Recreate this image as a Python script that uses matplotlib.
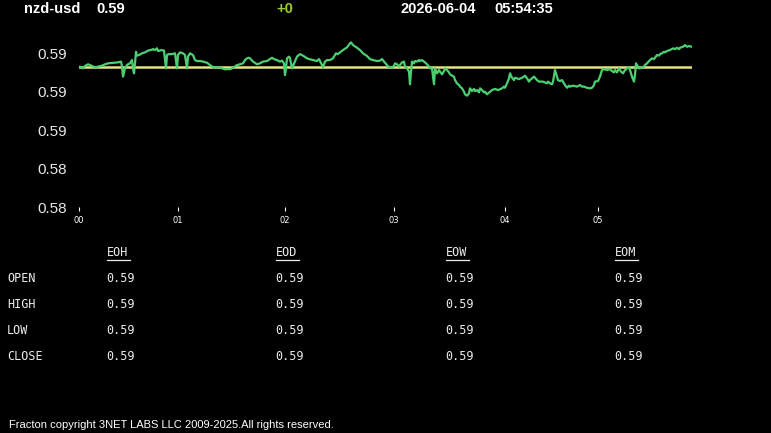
import numpy as np
import matplotlib
matplotlib.use("Agg")
import matplotlib.pyplot as plt
from matplotlib.lines import Line2D

# ---- header ----
pair_name = "nzd-usd"
last_price = "0.59"
change_txt = "+0"
date_txt = "2026-06-04"
time_txt = "05:54:35"

# ---- intraday series (sample index, price) ----
sample_idx = [0, 3, 4, 6, 9, 11, 13, 16, 19, 23, 26, 29, 33, 36, 39, 42, 43, 44, 46, 48,
              49, 51, 53, 54, 55, 56, 57, 58, 60, 63, 66, 69, 73, 74, 76, 78, 79, 83, 85, 87,
              88, 89, 93, 96, 98, 99, 101, 104, 106, 108, 109, 111, 114, 116, 118, 121, 124, 128, 130, 133,
              136, 139, 143, 146, 149, 151, 154, 158, 161, 164, 166, 168, 170, 171, 174, 178, 181, 184, 188, 191,
              193, 195, 198, 201, 203, 205, 206, 207, 208, 210, 211, 213, 214, 216, 218, 221, 224, 228, 231, 234,
              238, 240, 243, 244, 246, 248, 251, 254, 257, 259, 261, 264, 268, 271, 272, 274, 278, 281, 284, 288,
              291, 294, 298, 301, 303, 305, 308, 309, 313, 315, 316, 318, 320, 321, 323, 325, 326, 328, 330, 331,
              332, 333, 335, 336, 338, 340, 341, 343, 345, 346, 348, 350, 351, 353, 355, 356, 358, 360, 361, 363,
              365, 366, 368, 370, 371, 373, 375, 376, 378, 380, 381, 383, 385, 386, 388, 390, 391, 393, 395, 396,
              398, 400, 401, 403, 405, 406, 408, 410, 411, 413, 416, 419, 423, 425, 426, 428, 430, 431, 433, 435,
              436, 438, 440, 443, 445, 446, 448, 450, 451, 453, 455, 456, 458, 460, 464, 468, 469, 471, 473, 474,
              476, 478, 479, 481, 483, 485, 486, 488, 490, 491, 494, 498, 501, 503, 505, 508, 511, 513, 515, 516,
              519, 521, 523, 525, 528, 531, 533, 535, 536, 538, 540, 542, 544, 546, 548, 550, 551, 553, 555, 556,
              557, 559, 560, 563, 565, 566, 568, 571, 573, 575, 576, 578, 580, 581, 583, 585, 586, 588, 591, 594,
              596, 598, 600, 601, 604, 606, 608, 610, 613]
price = [0.58931, 0.58927, 0.58922, 0.58934, 0.58943, 0.58939, 0.58934, 0.58927, 0.58931, 0.58936,
         0.58943, 0.58948, 0.58950, 0.58951, 0.58953, 0.58957, 0.58931, 0.58879, 0.58922, 0.58939,
         0.58943, 0.58948, 0.58965, 0.58922, 0.58896, 0.58948, 0.59008, 0.58988, 0.58991, 0.59000,
         0.59005, 0.59014, 0.59019, 0.59022, 0.59017, 0.59026, 0.59012, 0.59017, 0.59014, 0.58922,
         0.58991, 0.58995, 0.58996, 0.59000, 0.58922, 0.58991, 0.59005, 0.59000, 0.58991, 0.58922,
         0.58983, 0.59000, 0.58991, 0.58965, 0.58960, 0.58960, 0.58957, 0.58951, 0.58943, 0.58931,
         0.58927, 0.58929, 0.58922, 0.58917, 0.58918, 0.58917, 0.58925, 0.58939, 0.58943, 0.58948,
         0.58965, 0.58974, 0.58977, 0.58974, 0.58957, 0.58943, 0.58948, 0.58957, 0.58960, 0.58970,
         0.58977, 0.58970, 0.58965, 0.58957, 0.58962, 0.58948, 0.58887, 0.58922, 0.58974, 0.58983,
         0.58974, 0.58922, 0.58934, 0.58957, 0.58983, 0.58996, 0.58988, 0.58974, 0.58969, 0.58965,
         0.58960, 0.58970, 0.58939, 0.58927, 0.58957, 0.58965, 0.58965, 0.58974, 0.59000, 0.58996,
         0.59005, 0.59017, 0.59031, 0.59052, 0.59057, 0.59043, 0.59029, 0.59017, 0.59000, 0.58986,
         0.58970, 0.58965, 0.58960, 0.58962, 0.58970, 0.58957, 0.58939, 0.58931, 0.58927, 0.58934,
         0.58948, 0.58943, 0.58931, 0.58939, 0.58953, 0.58957, 0.58931, 0.58922, 0.58905, 0.58839,
         0.58905, 0.58957, 0.58948, 0.58960, 0.58957, 0.58965, 0.58960, 0.58965, 0.58957, 0.58953,
         0.58943, 0.58931, 0.58922, 0.58922, 0.58839, 0.58922, 0.58896, 0.58913, 0.58905, 0.58891,
         0.58908, 0.58922, 0.58913, 0.58901, 0.58891, 0.58884, 0.58879, 0.58861, 0.58844, 0.58835,
         0.58827, 0.58818, 0.58801, 0.58787, 0.58780, 0.58792, 0.58818, 0.58804, 0.58815, 0.58804,
         0.58809, 0.58797, 0.58818, 0.58809, 0.58797, 0.58801, 0.58787, 0.58796, 0.58801, 0.58809,
         0.58815, 0.58809, 0.58818, 0.58827, 0.58821, 0.58844, 0.58870, 0.58896, 0.58873, 0.58861,
         0.58873, 0.58870, 0.58866, 0.58873, 0.58879, 0.58884, 0.58870, 0.58853, 0.58861, 0.58870,
         0.58879, 0.58873, 0.58861, 0.58853, 0.58853, 0.58844, 0.58853, 0.58844, 0.58839, 0.58853,
         0.58913, 0.58879, 0.58861, 0.58856, 0.58861, 0.58844, 0.58835, 0.58821, 0.58832, 0.58827,
         0.58832, 0.58827, 0.58835, 0.58827, 0.58827, 0.58821, 0.58818, 0.58821, 0.58835, 0.58853,
         0.58856, 0.58879, 0.58913, 0.58918, 0.58913, 0.58918, 0.58908, 0.58901, 0.58913, 0.58901,
         0.58922, 0.58905, 0.58896, 0.58913, 0.58922, 0.58927, 0.58913, 0.58879, 0.58853, 0.58887,
         0.58948, 0.58931, 0.58922, 0.58925, 0.58931, 0.58939, 0.58948, 0.58965, 0.58974, 0.58970,
         0.58977, 0.58991, 0.58988, 0.58996, 0.59000, 0.59008, 0.59005, 0.59012, 0.59017, 0.59026,
         0.59022, 0.59029, 0.59022, 0.59029, 0.59034, 0.59043, 0.59034, 0.59038, 0.59034]
open_price = 0.58931

hour_idx = [0, 99, 206, 315, 426, 519]
hour_labels = ["00", "01", "02", "03", "04", "05"]
ytick_vals = [0.590, 0.588, 0.586, 0.584, 0.582]

# ---- OHLC table ----
col_heads = ["EOH", "EOD", "EOW", "EOM"]
row_heads = ["OPEN", "HIGH", "LOW", "CLOSE"]
table_vals = [["0.59", "0.59", "0.59", "0.59"],
              ["0.59", "0.59", "0.59", "0.59"],
              ["0.59", "0.59", "0.59", "0.59"],
              ["0.59", "0.59", "0.59", "0.59"]]
footer = "Fracton copyright 3NET LABS LLC 2009-2025.All rights reserved."

W, H = 771, 433
fig = plt.figure(figsize=(W / 100, H / 100), dpi=100, facecolor="black")

def fx(px):
    return px / W

def fy(py):
    return 1 - py / H

ax = fig.add_axes([fx(79), fy(207.3), fx(613), (207.3 - 36) / H])
ax.set_facecolor("black")
ax.plot(sample_idx, price, color="#4ccf72", lw=1.6, zorder=3)
ax.axhline(open_price, color="#e4e47c", lw=1.8, zorder=2)
ax.set_xlim(0, 613)
ax.set_ylim(0.582, 0.5909)
for s in ax.spines.values():
    s.set_visible(False)
ax.set_xticks(hour_idx)
ax.set_xticklabels(hour_labels)
ax.set_yticks(ytick_vals)
ax.set_yticklabels(["%.2f" % v for v in ytick_vals])
ax.tick_params(axis="x", colors="white", direction="out", length=3, width=0.8,
               labelsize=6, pad=3.5)
ax.tick_params(axis="y", colors="#e6e6e6", length=0, pad=8.5, labelsize=11)
for lab in ax.get_yticklabels():
    lab.set_family("Liberation Sans")

# header line
hfont = dict(family="Liberation Sans", weight="bold", size=10.5, va="center")
fig.text(fx(24), fy(9), pair_name, color="white", **hfont)
fig.text(fx(96), fy(9), last_price, color="white", **hfont)
fig.text(fx(276), fy(9), change_txt, color="#9acd32", **hfont)
fig.text(fx(400), fy(9), date_txt, color="white", **hfont)
fig.text(fx(494), fy(9), time_txt, color="white", **hfont)

# table
mono = dict(family="DejaVu Sans Mono", size=8.5, color="#ececec", va="center")
col_x = [107, 276, 446, 615]
row_y = [278.7, 304.5, 330.3, 356]
for cx, head in zip(col_x, col_heads):
    fig.text(fx(cx), fy(253), head, **mono)
    fig.add_artist(Line2D([fx(cx), fx(cx + 23)], [fy(259.5), fy(259.5)],
                          color="#ececec", lw=0.9, transform=fig.transFigure))
for ry, rname, vals in zip(row_y, row_heads, table_vals):
    fig.text(fx(7), fy(ry), rname, **mono)
    for cx, v in zip(col_x, vals):
        fig.text(fx(cx - 1), fy(ry), v, **mono)

fig.text(fx(9), fy(425.5), footer, color="white", family="Liberation Sans",
         size=8, va="center")

fig.savefig("out.png", dpi=100, facecolor="black")
